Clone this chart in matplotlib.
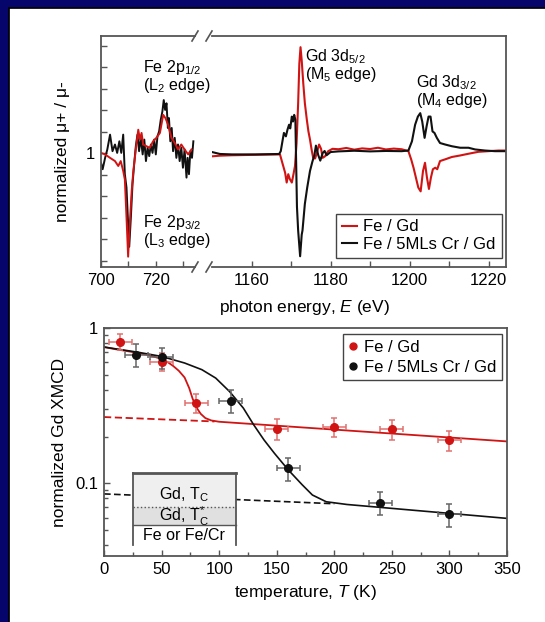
import matplotlib
matplotlib.use('Agg')
import matplotlib.pyplot as plt
from matplotlib.patches import Rectangle
from matplotlib.lines import Line2D
import numpy as np

plt.rcParams['font.family'] = ['Liberation Sans', 'DejaVu Sans']
plt.rcParams['mathtext.fontset'] = 'custom'
plt.rcParams['mathtext.rm'] = 'Liberation Sans'
plt.rcParams['mathtext.it'] = 'Liberation Sans:italic'

#++++++++++++++++++++++++++++++++++++++++++++++
# Data
#++++++++++++++++++++++++++++++++++++++++++++++
# Fe L-edge, Fe / Gd (red)
fe_E_red = [700.0, 701.5, 703.3, 705.1, 706.3, 707.2, 708.1, 708.7, 709.3, 709.9, 710.5, 711.2,
            711.8, 712.7, 713.6, 714.2, 714.8, 715.4, 716.6, 717.8, 719.0, 720.2, 721.5, 722.7,
            723.5, 724.5, 725.7, 726.9, 728.1, 729.3, 730.5, 731.8, 733.0]
fe_red = [1.001, 0.994, 0.978, 0.963, 0.940, 0.963, 0.917, 0.877, 0.702, 0.518, 0.671, 0.825,
          0.917, 1.017, 1.109, 1.063, 1.094, 1.040, 1.032, 1.025, 1.055, 1.071, 1.094, 1.178,
          1.163, 1.132, 1.071, 1.048, 1.017, 1.040, 1.017, 0.994, 1.017]
# Fe L-edge, Fe / 5MLs Cr / Gd (black)
fe_E_blk = [700.0, 700.6, 701.5, 702.3, 703.3, 704.2, 705.1, 705.9, 706.7, 707.4, 708.1, 708.7,
            709.3, 709.9, 710.3, 710.9, 711.5, 712.1, 712.7, 713.3, 713.9, 714.5, 715.2, 715.8,
            716.4, 717.0, 717.6, 718.2, 718.8, 719.4, 720.0, 720.6, 721.2, 721.8, 722.4, 722.9,
            723.4, 723.9, 724.4, 724.8, 725.3, 725.8, 726.3, 726.9, 727.5, 728.1, 728.7, 729.3,
            729.9, 730.5, 731.2, 731.6, 732.1, 732.6, 733.2, 733.7]
fe_blk = [0.955, 0.925, 0.978, 1.017, 1.086, 1.009, 1.040, 1.001, 1.055, 1.001, 1.086, 0.902,
          0.840, 0.671, 0.564, 0.702, 0.856, 0.948, 1.032, 1.086, 1.009, 1.071, 0.994, 1.063,
          0.963, 1.025, 0.986, 1.040, 1.001, 1.063, 0.994, 1.078, 1.101, 1.155, 1.194, 1.247,
          1.201, 1.232, 1.117, 1.163, 1.055, 1.117, 1.009, 1.071, 0.978, 1.040, 0.963, 1.025,
          0.932, 1.017, 0.886, 0.978, 0.902, 1.009, 0.978, 1.055]

# Gd M-edges, Fe / Gd (red)
gd_E_red = [1150.0, 1152.0, 1155.0, 1158.0, 1161.0, 1164.0, 1167.2, 1167.9, 1168.5, 1168.9,
            1169.3, 1169.7, 1170.2, 1170.6, 1171.0, 1171.4, 1171.8, 1172.1, 1172.4, 1172.7,
            1173.1, 1173.5, 1174.0, 1174.4, 1174.8, 1175.2, 1175.6, 1176.1, 1176.6, 1177.1,
            1177.6, 1178.0, 1178.6, 1179.4, 1180.5, 1182.0, 1184.0, 1186.0, 1188.0, 1190.0,
            1192.0, 1194.0, 1196.0, 1198.0, 1199.7, 1200.4, 1201.0, 1201.6, 1202.2, 1202.8,
            1203.4, 1203.9, 1204.4, 1204.9, 1205.4, 1205.9, 1206.5, 1207.0, 1207.7, 1209.0,
            1210.7, 1212.8, 1214.9, 1217.4, 1219.9, 1222.5, 1224.4]
gd_red = [0.985, 0.988, 0.990, 0.991, 0.992, 0.993, 0.994, 0.948, 0.909, 0.863,
          0.902, 0.879, 0.863, 0.900, 0.940, 1.047, 1.232, 1.416, 1.493, 1.432,
          1.324, 1.232, 1.155, 1.101, 1.063, 1.017, 0.978, 0.975, 1.005, 1.040,
          1.020, 0.978, 0.985, 1.009, 1.020, 1.018, 1.024, 1.016, 1.022, 1.019,
          1.025, 1.017, 1.021, 1.018, 1.009, 0.971, 0.932, 0.886, 0.840, 0.822,
          0.917, 0.955, 0.886, 0.833, 0.886, 0.925, 0.932, 0.925, 0.963, 0.971,
          0.982, 0.989, 0.997, 1.006, 1.009, 1.012, 1.012]
# Gd M-edges, Fe / 5MLs Cr / Gd (black)
gd_E_blk = [1150.0, 1152.0, 1155.0, 1158.0, 1161.0, 1164.0, 1167.0, 1167.4, 1167.9, 1168.2,
            1168.7, 1169.1, 1169.5, 1169.8, 1170.2, 1170.5, 1170.8, 1171.1, 1171.3, 1171.5,
            1171.8, 1172.3, 1172.7, 1172.9, 1173.5, 1174.1, 1174.8, 1175.4, 1175.9, 1176.3,
            1176.9, 1177.4, 1178.0, 1178.5, 1179.0, 1180.0, 1182.0, 1186.0, 1190.0, 1194.0,
            1198.0, 1199.7, 1200.6, 1201.4, 1202.1, 1202.7, 1203.2, 1203.8, 1204.3, 1204.8,
            1205.3, 1205.8, 1206.3, 1206.9, 1207.7, 1209.0, 1210.7, 1212.8, 1214.9, 1216.6,
            1219.1, 1221.6, 1224.4]
gd_blk = [1.005, 0.996, 0.994, 0.994, 0.994, 0.995, 0.996, 1.009, 1.063, 1.094,
          1.078, 1.109, 1.132, 1.115, 1.170, 1.147, 1.178, 1.155, 0.950, 0.750,
          0.640, 0.520, 0.620, 0.640, 0.764, 0.840, 0.917, 0.960, 0.990, 1.035,
          0.990, 0.965, 1.000, 1.010, 0.990, 1.005, 1.008, 1.011, 1.008, 1.010,
          1.009, 1.012, 1.055, 1.132, 1.170, 1.186, 1.147, 1.071, 1.124, 1.170,
          1.170, 1.101, 1.094, 1.071, 1.047, 1.040, 1.032, 1.025, 1.025, 1.017,
          1.012, 1.009, 1.009]

# Temperature dependence of Gd XMCD
T_red = [14, 50, 80, 150, 200, 250, 300]
xmcd_red = [0.816, 0.607, 0.33, 0.224, 0.231, 0.222, 0.189]
yerr_red = [0.093, 0.08, 0.046, 0.035, 0.033, 0.032, 0.027]
T_blk = [28, 50, 110, 160, 240, 300]
xmcd_blk = [0.672, 0.647, 0.34, 0.125, 0.075, 0.063]
yerr_blk = [0.115, 0.1, 0.058, 0.021, 0.013, 0.011]
Terr = 10

# fit curves
fitT_red = [0, 10, 20, 30, 40, 50, 55, 60, 65, 70, 74, 77, 80, 84, 88, 93, 100, 350]
fit_red = [0.754, 0.73, 0.71, 0.69, 0.665, 0.632, 0.605, 0.57, 0.53, 0.48, 0.41, 0.35,
           0.31, 0.28, 0.263, 0.254, 0.249, 0.186]
dashT_red = [0, 96]
dash_red = [0.267, 0.25]
fitT_blk = [0, 30, 50, 70, 85, 97, 109, 121, 130, 139, 148, 160, 172, 181, 193, 211, 350]
fit_blk = [0.754, 0.697, 0.656, 0.595, 0.539, 0.476, 0.39, 0.305, 0.238, 0.19, 0.156,
           0.122, 0.098, 0.084, 0.076, 0.073, 0.0594]
dashT_blk = [0, 200]
dash_blk = [0.0854, 0.0738]

#++++++++++++++++++++++++++++++++++++++++++++++
# Styles
#++++++++++++++++++++++++++++++++++++++++++++++
red = '#d01414'
blk = '#111111'
spine_c = '#555555'
navy = '#05056b'

W, H = 545, 622
def fbox(l, t, r, b):
    return [l / W, 1 - b / H, (r - l) / W, (b - t) / H]

fig = plt.figure(figsize=(W / 100, H / 100), dpi=100)
fig.patch.set_facecolor('white')

# navy frame of the slide (top and left)
fig.add_artist(Rectangle((0, 1 - 7 / H), 1, 7 / H, transform=fig.transFigure, color=navy, zorder=0))
fig.add_artist(Rectangle((0, 0), 8 / W, 1, transform=fig.transFigure, color=navy, zorder=0))
fig.add_artist(Line2D([8.5 / W, 8.5 / W], [0, 1 - 7.5 / H], transform=fig.transFigure, color='black', lw=1.2))
fig.add_artist(Line2D([8.5 / W, 1], [1 - 7.5 / H, 1 - 7.5 / H], transform=fig.transFigure, color='black', lw=1.2))

axL = fig.add_axes(fbox(101, 36, 195, 267))
axR = fig.add_axes(fbox(212, 36, 506, 267))
axB = fig.add_axes(fbox(104, 328, 507, 556))

for ax in (axL, axR, axB):
    for s in ax.spines.values():
        s.set_color(spine_c)
        s.set_linewidth(1.3)
    ax.tick_params(which='both', direction='in', color=spine_c, labelsize=12, pad=4)
    ax.tick_params(which='major', length=4.5, width=1)
    ax.tick_params(which='minor', length=3, width=1)

############################
# top: XAS ratio spectra
############################
axL.plot(fe_E_blk, fe_blk, color=blk, lw=1.4)
axL.plot(fe_E_red, fe_red, color=red, lw=1.4)
axR.plot(gd_E_red, gd_red, color=red, lw=1.5, label='Fe / Gd')
axR.plot(gd_E_blk, gd_blk, color=blk, lw=1.5, label='Fe / 5MLs Cr / Gd')

for ax in (axL, axR):
    ax.set_ylim(0.47, 1.545)
axL.set_xlim(700, 734.3)
axR.set_xlim(1150, 1224.4)

yt = np.round(np.arange(0.5, 1.51, 0.1), 2)
axL.set_yticks(yt)
axL.set_yticklabels(['1' if abs(v - 1) < 1e-6 else '' for v in yt])
axR.set_yticks([])
axL.set_xticks([700, 710, 720, 730])
axL.set_xticklabels(['700', '', '720', ''])
axR.set_xticks([1160, 1170, 1180, 1190, 1200, 1210, 1220])
axR.set_xticklabels(['1160', '', '1180', '', '1200', '', '1220'])
axL.spines['right'].set_visible(False)
axR.spines['left'].set_visible(False)

# axis break marks
for cx in (195, 209):
    for cy in (36, 267):
        fig.add_artist(Line2D([(cx - 3) / W, (cx + 3) / W], [1 - (cy + 5) / H, 1 - (cy - 5) / H],
                              transform=fig.transFigure, color=spine_c, lw=1.2))

axL.set_ylabel('normalized μ+ / μ-', fontsize=12.5, labelpad=12)
fig.text(304 / W, 1 - 307 / H, 'photon energy, $E$ (eV)', fontsize=12.5, ha='center', va='center')

axL.text(715.5, 1.27, 'Fe 2p$_{1/2}$\n(L$_2$ edge)', fontsize=11.5, va='bottom', ha='left',
         linespacing=0.95)
axL.text(715.5, 0.55, 'Fe 2p$_{3/2}$\n(L$_3$ edge)', fontsize=11.5, va='bottom', ha='left',
         linespacing=0.95)
axR.text(1173.5, 1.32, 'Gd 3d$_{5/2}$\n(M$_5$ edge)', fontsize=11.5, va='bottom', ha='left',
         linespacing=0.95)
axR.text(1201.5, 1.2, 'Gd 3d$_{3/2}$\n(M$_4$ edge)', fontsize=11.5, va='bottom', ha='left',
         linespacing=0.95)

legR = axR.legend(loc='lower right', bbox_to_anchor=(0.985, 0.04), borderaxespad=0, fontsize=12,
                  frameon=True, fancybox=False, framealpha=1, edgecolor='#444444',
                  handlelength=0.9, handletextpad=0.4, labelspacing=0.15, borderpad=0.35)
legR.get_frame().set_linewidth(1.0)

############################
# bottom: temperature dependence
############################
axB.plot(fitT_red, fit_red, color=red, lw=1.3)
axB.plot(dashT_red, dash_red, color=red, lw=1.3, ls=(0, (4, 2)))
axB.plot(fitT_blk, fit_blk, color=blk, lw=1.2)
axB.plot(dashT_blk, dash_blk, color=blk, lw=1.2, ls=(0, (4, 2)))

axB.errorbar(T_red, xmcd_red, yerr=yerr_red, xerr=Terr, fmt='o', ms=5.5, color=red,
             ecolor='#e07070', elinewidth=1.1, capsize=2.5, capthick=1.1, zorder=6)
axB.errorbar(T_blk, xmcd_blk, yerr=yerr_blk, xerr=Terr, fmt='o', ms=5.5, color=blk,
             ecolor='#666666', elinewidth=1.1, capsize=2.5, capthick=1.1, zorder=6)

axB.set_yscale('log')
axB.set_ylim(0.034, 1.0)
axB.set_xlim(0, 350)
axB.set_xticks(np.arange(0, 351, 50))
axB.set_xticks(np.arange(25, 350, 50), minor=True)
axB.set_yticks([0.1, 1])
axB.set_yticklabels(['0.1', '1'])
axB.set_yticks([0.04, 0.05, 0.06, 0.07, 0.08, 0.09, 0.2, 0.3, 0.4, 0.5, 0.6, 0.7, 0.8, 0.9],
               minor=True)
axB.yaxis.set_minor_formatter(plt.NullFormatter())
axB.set_xlabel('temperature, $T$ (K)', fontsize=12.5, labelpad=5)
axB.set_ylabel('normalized Gd XMCD', fontsize=12.5, labelpad=6)

# layer sketch inset
bx0, bx1 = 0.072, 0.327
tr = axB.transAxes
axB.add_patch(Rectangle((bx0, 0.216), bx1 - bx0, 0.147, transform=tr, facecolor='#efefef',
                        edgecolor='none', zorder=7))
axB.add_patch(Rectangle((bx0, 0.136), bx1 - bx0, 0.080, transform=tr, facecolor='#e0e0e0',
                        edgecolor='none', zorder=7))
axB.add_patch(Rectangle((bx0, 0.048), bx1 - bx0, 0.088, transform=tr, facecolor='white',
                        edgecolor='none', zorder=7))
axB.plot([bx0, bx1], [0.363, 0.363], transform=tr, color='#555555', lw=2, zorder=8)
axB.plot([bx0, bx0], [0.048, 0.363], transform=tr, color='#555555', lw=1.3, zorder=8)
axB.plot([bx1, bx1], [0.048, 0.363], transform=tr, color='#555555', lw=1.3, zorder=8)
axB.plot([bx0, bx1], [0.216, 0.216], transform=tr, color='#555555', lw=1, ls=':', zorder=8)
axB.plot([bx0, bx1], [0.136, 0.136], transform=tr, color='#555555', lw=1, zorder=8)
cx = (bx0 + bx1) / 2
axB.text(cx, 0.268, 'Gd, T$_\\mathrm{C}$', transform=tr, ha='center', va='center', fontsize=11.5, zorder=9)
axB.text(cx, 0.175, 'Gd, T$_\\mathrm{C}^{*}$', transform=tr, ha='center', va='center', fontsize=11.5, zorder=9)
axB.text(cx, 0.088, 'Fe or Fe/Cr', transform=tr, ha='center', va='center', fontsize=11.5, zorder=9)

hB = [Line2D([], [], marker='o', ls='none', color=red, ms=5),
      Line2D([], [], marker='o', ls='none', color=blk, ms=5)]
legB = axB.legend(hB, ['Fe / Gd', 'Fe / 5MLs Cr / Gd'], loc='upper right',
                  bbox_to_anchor=(0.988, 0.975), borderaxespad=0, fontsize=12, frameon=True,
                  fancybox=False, framealpha=1, edgecolor='#444444', handlelength=0.5,
                  handletextpad=0.4, labelspacing=0.3, borderpad=0.35)
legB.get_frame().set_linewidth(1.0)

fig.savefig('out.png', dpi=100)
